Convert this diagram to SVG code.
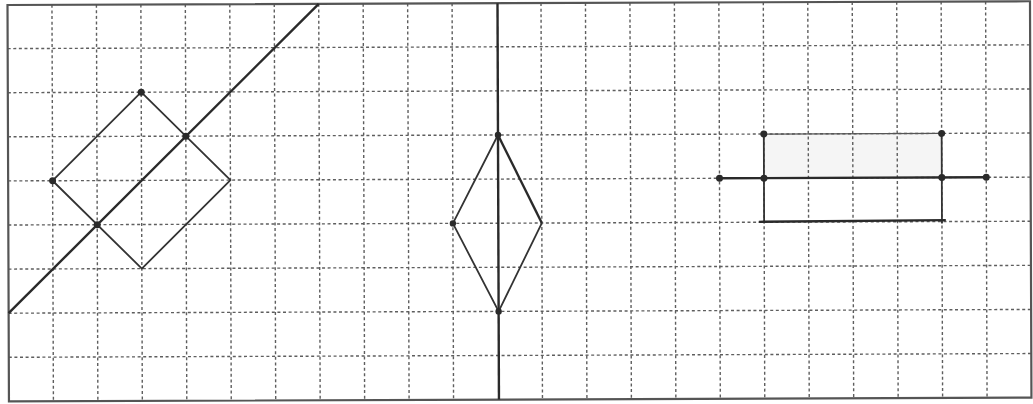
<svg xmlns="http://www.w3.org/2000/svg" width="1033" height="404" viewBox="0 0 1033 404">
<style>
.grid{fill:none;stroke:#5e5e5e;stroke-width:1.4;stroke-dasharray:3 2.6}
.frame{fill:none;stroke:#555;stroke-width:2.2}
.fig{fill:none;stroke:#333;stroke-width:1.8;stroke-linejoin:round}
.thick{fill:none;stroke:#2a2a2a;stroke-width:2.4}
.thin{fill:none;stroke:#555;stroke-width:1.3}
.dot{fill:#2a2a2a}
</style>
<rect width="1033" height="404" fill="#fff"/>
<g id="sheet" transform="rotate(-0.21 7.5 5)">
<rect id="shade" x="763.32" y="136.8" width="177.84" height="44.1" fill="#f5f5f5"/>
<g id="grid" class="grid">
<path d="M51.96 5V401.4M96.42 5V401.4M140.88 5V401.4M185.34 5V401.4M229.8 5V401.4M274.26 5V401.4M318.72 5V401.4M363.18 5V401.4M407.64 5V401.4M452.1 5V401.4M541.02 5V401.4M585.48 5V401.4M629.94 5V401.4M674.4 5V401.4M718.86 5V401.4M763.32 5V401.4M807.78 5V401.4M852.24 5V401.4M896.7 5V401.4M941.16 5V401.4M985.62 5V401.4"/>
<path d="M7.5 48.6H1030M7.5 92.7H1030M7.5 136.8H1030M7.5 180.9H1030M7.5 225H1030M7.5 269.1H1030M7.5 313.2H1030M7.5 357.3H1030"/>
</g>
<rect id="frame" class="frame" x="7.5" y="5" width="1022.5" height="396.4"/>
<g id="connectors">
<line id="axis1" class="thick" x1="7.5" y1="313.2" x2="318.72" y2="5"/>
<line id="axis2" class="thick" x1="497.5" y1="5" x2="497.5" y2="401.4"/>
<line id="axis3" class="thick" x1="718.86" y1="180.9" x2="985.62" y2="180.9"/>
</g>
<g id="square">
<polygon class="fig" points="51.96,180.9 140.88,92.7 229.8,180.9 140.88,269.1"/>
<circle class="dot" cx="140.88" cy="92.7" r="3.5"/>
<circle class="dot" cx="51.96" cy="180.9" r="3.5"/>
<circle class="dot" cx="185.34" cy="136.8" r="3.5"/>
<circle class="dot" cx="96.42" cy="225" r="3.5"/>
</g>
<g id="rhombus">
<polyline class="fig" points="497.5,136.8 452.1,225 497.5,313.2 541.02,225"/>
<line class="thick" x1="497.5" y1="136.8" x2="541.02" y2="225"/>
<circle class="dot" cx="497.5" cy="136.8" r="3.2"/>
<circle class="dot" cx="452.1" cy="225" r="3.2"/>
<circle class="dot" cx="497.5" cy="313.2" r="3.2"/>
</g>
<g id="rectangle">
<line class="thin" x1="763.32" y1="136.8" x2="941.16" y2="136.8"/>
<path class="fig" d="M763.32 136.8V225M941.16 136.8V227"/>
<line class="thick" x1="758" y1="224.6" x2="945" y2="223.6"/>
<circle class="dot" cx="763.32" cy="136.8" r="3.5"/>
<circle class="dot" cx="941.16" cy="136.8" r="3.5"/>
<circle class="dot" cx="718.86" cy="180.9" r="3.5"/>
<circle class="dot" cx="763.32" cy="180.9" r="3.5"/>
<circle class="dot" cx="941.16" cy="180.9" r="3.5"/>
<circle class="dot" cx="985.62" cy="180.9" r="3.5"/>
</g>
</g>
</svg>
